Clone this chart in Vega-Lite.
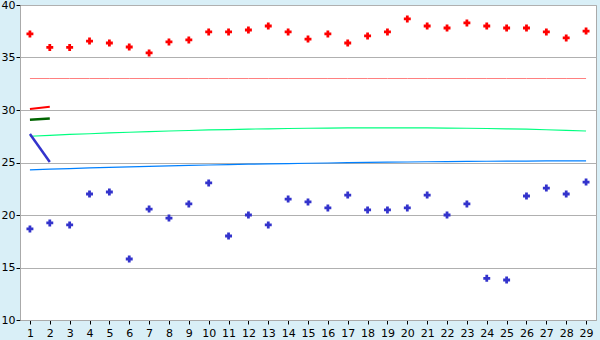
{
  "$schema": "https://vega.github.io/schema/vega-lite/v6.json",
  "width": 576,
  "height": 315,
  "autosize": {"type": "none"},
  "padding": {"left": 20, "top": 5, "right": 4, "bottom": 20},
  "background": "#d9eff7",
  "config": {
    "view": {"fill": "#ffffff", "stroke": "#aaaaaa", "strokeWidth": 1},
    "axis": {
      "labelFont": "DejaVu Sans",
      "labelFontSize": 11,
      "labelColor": "#000000",
      "domainColor": "#aaaaaa",
      "tickColor": "#000000",
      "gridColor": "#b0b0b0",
      "title": null
    }
  },
  "datasets": {
    "pts": [
      {"x": 1, "hi": 37.24, "lo": 18.67},
      {"x": 2, "hi": 35.96, "lo": 19.24},
      {"x": 3, "hi": 35.96, "lo": 19.05},
      {"x": 4, "hi": 36.57, "lo": 22.0},
      {"x": 5, "hi": 36.38, "lo": 22.19},
      {"x": 6, "hi": 36.0, "lo": 15.81},
      {"x": 7, "hi": 35.43, "lo": 20.57},
      {"x": 8, "hi": 36.48, "lo": 19.71},
      {"x": 9, "hi": 36.67, "lo": 21.05},
      {"x": 10, "hi": 37.43, "lo": 23.05},
      {"x": 11, "hi": 37.43, "lo": 18.0},
      {"x": 12, "hi": 37.62, "lo": 20.0},
      {"x": 13, "hi": 38.0, "lo": 19.05},
      {"x": 14, "hi": 37.43, "lo": 21.52},
      {"x": 15, "hi": 36.76, "lo": 21.24},
      {"x": 16, "hi": 37.24, "lo": 20.67},
      {"x": 17, "hi": 36.38, "lo": 21.9},
      {"x": 18, "hi": 37.05, "lo": 20.48},
      {"x": 19, "hi": 37.43, "lo": 20.48},
      {"x": 20, "hi": 38.67, "lo": 20.67},
      {"x": 21, "hi": 38.0, "lo": 21.9},
      {"x": 22, "hi": 37.81, "lo": 20.0},
      {"x": 23, "hi": 38.29, "lo": 21.05},
      {"x": 24, "hi": 38.0, "lo": 13.97},
      {"x": 25, "hi": 37.81, "lo": 13.81},
      {"x": 26, "hi": 37.81, "lo": 21.81},
      {"x": 27, "hi": 37.43, "lo": 22.57},
      {"x": 28, "hi": 36.86, "lo": 22.0},
      {"x": 29, "hi": 37.52, "lo": 23.14}
    ],
    "trend": [
      {"x": 1, "upper": 33, "mid": 27.5, "low": 24.29},
      {"x": 2, "upper": 33, "mid": 27.59, "low": 24.37},
      {"x": 3, "upper": 33, "mid": 27.67, "low": 24.42},
      {"x": 4, "upper": 33, "mid": 27.74, "low": 24.48},
      {"x": 5, "upper": 33, "mid": 27.82, "low": 24.54},
      {"x": 6, "upper": 33, "mid": 27.88, "low": 24.58},
      {"x": 7, "upper": 33, "mid": 27.94, "low": 24.64},
      {"x": 8, "upper": 33, "mid": 28.0, "low": 24.68},
      {"x": 9, "upper": 33, "mid": 28.05, "low": 24.73},
      {"x": 10, "upper": 33, "mid": 28.1, "low": 24.76},
      {"x": 11, "upper": 33, "mid": 28.14, "low": 24.8},
      {"x": 12, "upper": 33, "mid": 28.18, "low": 24.84},
      {"x": 13, "upper": 33, "mid": 28.21, "low": 24.87},
      {"x": 14, "upper": 33, "mid": 28.24, "low": 24.9},
      {"x": 15, "upper": 33, "mid": 28.26, "low": 24.93},
      {"x": 16, "upper": 33, "mid": 28.28, "low": 24.95},
      {"x": 17, "upper": 33, "mid": 28.29, "low": 24.98},
      {"x": 18, "upper": 33, "mid": 28.3, "low": 25.01},
      {"x": 19, "upper": 33, "mid": 28.3, "low": 25.03},
      {"x": 20, "upper": 33, "mid": 28.3, "low": 25.05},
      {"x": 21, "upper": 33, "mid": 28.29, "low": 25.07},
      {"x": 22, "upper": 33, "mid": 28.28, "low": 25.09},
      {"x": 23, "upper": 33, "mid": 28.26, "low": 25.11},
      {"x": 24, "upper": 33, "mid": 28.24, "low": 25.12},
      {"x": 25, "upper": 33, "mid": 28.21, "low": 25.13},
      {"x": 26, "upper": 33, "mid": 28.17, "low": 25.14},
      {"x": 27, "upper": 33, "mid": 28.12, "low": 25.15},
      {"x": 28, "upper": 33, "mid": 28.06, "low": 25.15},
      {"x": 29, "upper": 33, "mid": 28.0, "low": 25.16}
    ],
    "seg": [
      {"x": 1, "r": 30.1, "g": 29.08, "b": 27.72},
      {"x": 2, "r": 30.31, "g": 29.2, "b": 25.05}
    ]
  },
  "encoding": {
    "x": {
      "type": "quantitative",
      "scale": {"domain": [0.5, 29.5], "nice": false, "zero": false},
      "axis": {
        "values": [1,2,3,4,5,6,7,8,9,10,11,12,13,14,15,16,17,18,19,20,21,22,23,24,25,26,27,28,29],
        "grid": false,
        "tickSize": 4,
        "labelPadding": 3
      }
    }
  },
  "layer": [
    {
      "data": {"name": "trend"},
      "mark": {"type": "line", "color": "#ff8080", "strokeWidth": 1},
      "encoding": {
        "x": {"field": "x", "type": "quantitative"},
        "y": {
          "field": "upper",
          "type": "quantitative",
          "scale": {"domain": [10, 40], "nice": false, "zero": false},
          "axis": {
            "values": [10, 15, 20, 25, 30, 35, 40],
            "grid": true,
            "tickSize": 4,
            "labelPadding": 1
          }
        }
      }
    },
    {
      "data": {"name": "trend"},
      "mark": {"type": "line", "color": "#00ff80", "strokeWidth": 1.2},
      "encoding": {
        "x": {"field": "x", "type": "quantitative"},
        "y": {"field": "mid", "type": "quantitative"}
      }
    },
    {
      "data": {"name": "trend"},
      "mark": {"type": "line", "color": "#0080ff", "strokeWidth": 1.2},
      "encoding": {
        "x": {"field": "x", "type": "quantitative"},
        "y": {"field": "low", "type": "quantitative"}
      }
    },
    {
      "data": {"name": "seg"},
      "mark": {"type": "line", "color": "#ff0000", "strokeWidth": 2},
      "encoding": {
        "x": {"field": "x", "type": "quantitative"},
        "y": {"field": "r", "type": "quantitative"}
      }
    },
    {
      "data": {"name": "seg"},
      "mark": {"type": "line", "color": "#006400", "strokeWidth": 2.5},
      "encoding": {
        "x": {"field": "x", "type": "quantitative"},
        "y": {"field": "g", "type": "quantitative"}
      }
    },
    {
      "data": {"name": "seg"},
      "mark": {"type": "line", "color": "#3333cc", "strokeWidth": 2.5},
      "encoding": {
        "x": {"field": "x", "type": "quantitative"},
        "y": {"field": "b", "type": "quantitative"}
      }
    },
    {
      "data": {"name": "pts"},
      "mark": {"type": "point", "shape": "cross", "filled": true, "color": "#ff0000", "size": 48, "opacity": 1},
      "encoding": {
        "x": {"field": "x", "type": "quantitative"},
        "y": {"field": "hi", "type": "quantitative"}
      }
    },
    {
      "data": {"name": "pts"},
      "mark": {"type": "point", "shape": "cross", "filled": true, "color": "#3333cc", "size": 48, "opacity": 1},
      "encoding": {
        "x": {"field": "x", "type": "quantitative"},
        "y": {"field": "lo", "type": "quantitative"}
      }
    }
  ]
}
